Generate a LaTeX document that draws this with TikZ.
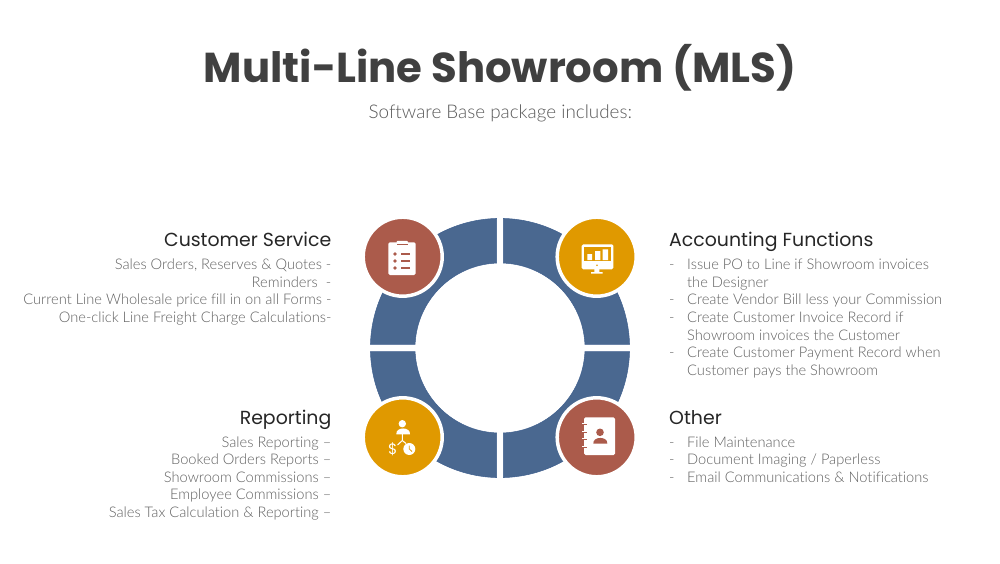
\documentclass[tikz,border=0pt]{standalone}
\usepackage{fontspec}
\usetikzlibrary{calc}
\setmainfont{Lato Light}[Ligatures=NoCommon]
\newfontfamily\popreg{Poppins}
\newfontfamily\popbold{Poppins Bold}
\definecolor{ringblue}{HTML}{4A6890}
\definecolor{ringedge}{HTML}{3E5F8E}
\definecolor{brick}{HTML}{AB5B4B}
\definecolor{amber}{HTML}{E09900}
\definecolor{titlegray}{HTML}{404040}
\definecolor{subgray}{HTML}{595959}
\definecolor{bodygray}{HTML}{606060}
\definecolor{headgray}{HTML}{262626}
\tikzset{
  seg/.style={fill=ringblue,draw=ringedge,line width=.5pt},
  disc/.style={circle,draw=white,line width=3.5pt,minimum size=79pt,inner sep=0pt},
  heading/.style={inner sep=0pt,font=\popreg\fontsize{18.9}{22}\selectfont,text=headgray},
  bodyl/.style={inner sep=0pt,align=right,anchor=north east,font=\fontsize{14.65}{17.6}\selectfont,text=bodygray},
  bodyr/.style={inner sep=0pt,align=left,anchor=north west,font=\fontsize{14.65}{17.6}\selectfont,text=bodygray},
  px/.style={shift={(0,563)},y=-1pt},
  icon/.style={fill=white,draw=none}
}
\newcommand{\dsh}{\makebox[18pt][l]{-}}
\newcommand{\ind}{\hspace*{18pt}}
\begin{document}
\begin{tikzpicture}[x=1pt,y=1pt]
\useasboundingbox (0,0) rectangle (1000,563);
\fill[white] (0,0) rectangle (1000,563);
% ring
\coordinate (c) at (500,215);
\draw[seg] ($(c)+(91.5:129.6pt)$) arc[start angle=91.5,end angle=178.4,radius=129.6pt] -- ($(c)+(177.5:85pt)$) arc[start angle=177.5,end angle=92.2,radius=85pt] -- cycle;
\draw[seg] ($(c)+(88.5:129.6pt)$) arc[start angle=88.5,end angle=1.6,radius=129.6pt] -- ($(c)+(2.5:85pt)$) arc[start angle=2.5,end angle=87.8,radius=85pt] -- cycle;
\draw[seg] ($(c)+(181.6:129.6pt)$) arc[start angle=181.6,end angle=268.5,radius=129.6pt] -- ($(c)+(267.8:85pt)$) arc[start angle=267.8,end angle=182.5,radius=85pt] -- cycle;
\draw[seg] ($(c)+(358.4:129.6pt)$) arc[start angle=358.4,end angle=271.5,radius=129.6pt] -- ($(c)+(272.2:85pt)$) arc[start angle=272.2,end angle=357.5,radius=85pt] -- cycle;
\begin{scope}[px]
\node[inner sep=0pt,anchor=base,font=\popbold\fontsize{41.8}{50}\selectfont,text=titlegray] (title) at (500,82.5) {Multi-Line Showroom (MLS)};
\node[inner sep=0pt,anchor=base,font=\fontsize{18.85}{22}\selectfont,text=subgray] (sub) at (500.3,118.5) {Software Base package includes:};
% discs
\node[disc,fill=brick] (dtl) at (402.7,256.7) {};
\node[disc,fill=amber] (dtr) at (596.7,256.7) {};
\node[disc,fill=amber] (dbl) at (402.7,437.3) {};
\node[disc,fill=brick] (dbr) at (596.7,437.3) {};
% clipboard icon
\fill[icon,rounded corners=1.5pt] (388.3,242.3) rectangle (415.7,275);
\fill[icon,rounded corners=1pt] (396.5,240.8) rectangle (408,245);
\draw[brick,line width=.7pt] (397,244.6) -- (408,244.6);
\foreach \yy in {254,261,268}{
  \fill[brick] (395,\yy) circle (1.9pt);
  \draw[brick,line width=1.1pt] (401,\yy) -- (410,\yy);
}
% monitor icon
\fill[icon,rounded corners=1.5pt] (581.7,244.3) rectangle (613.3,269.3);
\fill[amber] (584.3,247) rectangle (610.7,261);
\fill[icon] (587.3,254) rectangle (592,260) (595,251) rectangle (600.3,260) (602.7,249.3) rectangle (608,260);
\fill[amber] (597,265.3) circle (.9pt);
\fill[icon] (594.3,269) rectangle (599.3,272) (591,272) rectangle (602.7,273.7);
% person-dollar-clock icon
\fill[icon] (402.3,423.7) circle (3.7pt);
\fill[icon] (396.3,434.3) .. controls (395.5,426.5) and (410.8,426.5) .. (410,434.3) -- cycle;
\draw[white,line width=1pt] (402.3,434) -- (402.3,440.5) (397.5,445) -- (402.3,440.5) -- (406,443.5);
\node[inner sep=0pt,font=\popreg\fontsize{15}{15}\selectfont,text=white] (dollar) at (392.7,449) {\$};
\fill[icon] (409.3,449) circle (6pt);
\draw[amber,line width=.8pt] (409.3,445.5) -- (409.3,449) -- (412,451.5);
% notebook icon
\fill[icon,rounded corners=1.5pt] (584,417.3) rectangle (615,455);
\foreach \yy in {423.5,431,438.5,446}{
  \draw[white,line width=1pt] (582,\yy) -- (585,\yy);
  \draw[brick,line width=.8pt] (584,\yy+1.2) -- (587,\yy+1.2);
}
\fill[brick] (600,432.3) circle (3.8pt);
\fill[brick] (593.3,443.7) .. controls (592.5,436) and (608.1,436) .. (607.3,443.7) -- cycle;
% texts
\node[heading,anchor=base east] (hcs) at (331.5,246.3) {Customer Service};
\node[bodyl] (bcs) at (331.5,258.8) {Sales Orders, Reserves \& Quotes -\\Reminders\ \ -\\Current Line Wholesale price fill in on all Forms -\\One-click Line Freight Charge Calculations-};
\node[heading,anchor=base east] (hrp) at (331.5,424.3) {Reporting};
\node[bodyl] (brp) at (331.5,436.3) {Sales Reporting --\\Booked Orders Reports --\\Showroom Commissions --\\Employee Commissions --\\Sales Tax Calculation \& Reporting --};
\node[heading,anchor=base west] (hac) at (669,246.3) {Accounting Functions};
\node[bodyr] (bac) at (669,258.8) {\dsh Issue PO to Line if Showroom invoices\\\ind the Designer\\\dsh Create Vendor Bill less your Commission\\\dsh Create Customer Invoice Record if\\\ind Showroom invoices the Customer\\\dsh Create Customer Payment Record when\\\ind Customer pays the Showroom};
\node[heading,anchor=base west] (hot) at (669,424.3) {Other};
\node[bodyr] (bot) at (669,436.3) {\dsh File Maintenance\\\dsh Document Imaging / Paperless\\\dsh Email Communications \& Notifications};
\end{scope}
\end{tikzpicture}
\end{document}
